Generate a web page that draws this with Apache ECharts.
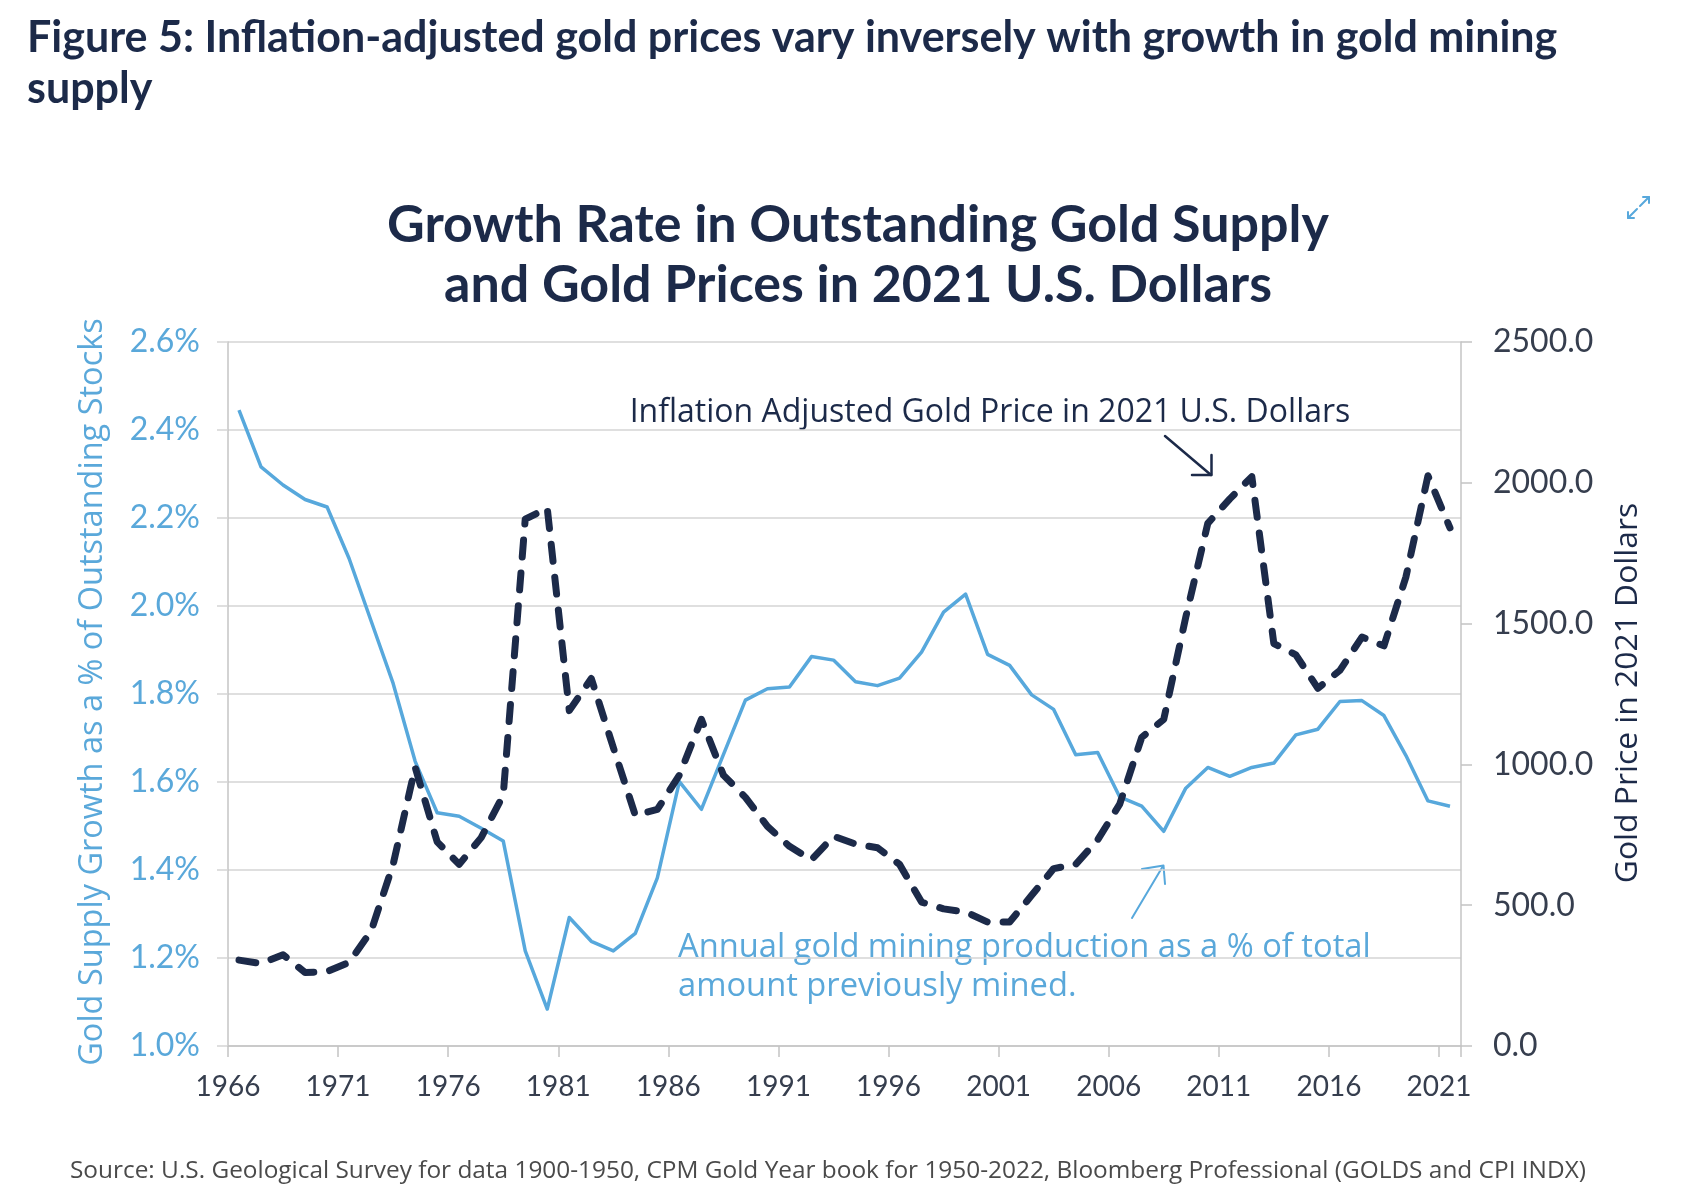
<!DOCTYPE html>
<html>
<head>
<meta charset="utf-8">
<script src="https://cdn.jsdelivr.net/npm/echarts@6/dist/echarts.min.js"></script>
<style>
  html, body { margin: 0; padding: 0; background: #ffffff; }
  #chart { width: 1696px; height: 1202px; }
</style>
</head>
<body>
<div id="chart"></div>
<script>
// ---- Data ----
const years = [1966,1967,1968,1969,1970,1971,1972,1973,1974,1975,1976,1977,1978,1979,1980,1981,1982,1983,1984,1985,
  1986,1987,1988,1989,1990,1991,1992,1993,1994,1995,1996,1997,1998,1999,2000,2001,2002,2003,2004,2005,
  2006,2007,2008,2009,2010,2011,2012,2013,2014,2015,2016,2017,2018,2019,2020,2021];

// Annual gold mining production as % of total previously mined (left axis, %)
const supplyGrowth = [2.445,2.316,2.275,2.242,2.225,2.108,1.966,1.824,1.647,1.530,1.522,1.495,1.466,1.216,1.084,1.292,1.238,1.216,1.256,1.382,
  1.601,1.538,1.662,1.786,1.812,1.816,1.885,1.877,1.828,1.819,1.836,1.895,1.986,2.027,1.890,1.865,1.798,1.765,1.662,1.667,
  1.566,1.545,1.488,1.586,1.633,1.613,1.633,1.643,1.707,1.720,1.783,1.785,1.751,1.660,1.557,1.545];

// Inflation adjusted gold price in 2021 U.S. dollars (right axis)
const goldPrice = [305,293,324,261,264,297,408,645,990,725,645,740,891,1871,1910,1191,1305,1060,819,840,
  962,1160,962,883,780,709,661,745,717,704,645,511,487,476,440,440,535,630,645,732,
  859,1096,1160,1523,1856,1943,2022,1429,1389,1270,1334,1452,1421,1666,2025,1840];

// Axis tick settings
const xMin = 1966, xMax = 2022, xStep = 5;
const leftMin = 1.0, leftMax = 2.6, leftStep = 0.2;
const rightMin = 0, rightMax = 2500, rightStep = 500;

// ---- Styles ----
const FONT = "Lato, 'Noto Sans', sans-serif";
const FONT_WIDE = "'Open Sans', 'Noto Sans', sans-serif";
const NAVY = '#1c2a49';
const BLUE = '#57a8dc';
const BLUE_TXT = '#5aa8da';
const AXIS_GRAY = '#c4c4c4';
const GRID_GRAY = '#d5d5d5';
const LABEL_DARK = '#363e4e';

// Each yearly value is plotted at the middle of its year slot
const supplyData = years.map((y, i) => [y + 0.5, supplyGrowth[i]]);
const priceData = years.map((y, i) => [y + 0.5, goldPrice[i]]);

const chart = echarts.init(document.getElementById('chart'), null, { renderer: 'canvas' });

function txt(text, x, y, size, color, opts) {
  opts = opts || {};
  return {
    type: 'text', x: x, y: y, silent: true,
    rotation: opts.rotation || 0,
    style: {
      text: text, fill: color, fontSize: size, fontFamily: opts.font || FONT,
      fontWeight: opts.weight || 'normal',
      align: opts.align || 'left', verticalAlign: 'middle'
    }
  };
}
function seg(points, color, w) {
  return { type: 'polyline', silent: true, shape: { points: points },
    style: { stroke: color, lineWidth: w, fill: null, lineCap: 'round', lineJoin: 'round' } };
}

const option = {
  backgroundColor: '#ffffff',
  animation: false,
  grid: { left: 228, right: 235, top: 342, bottom: 156, containLabel: false, outerBoundsMode: 'none' },
  xAxis: {
    type: 'value', min: xMin, max: xMax, interval: xStep,
    axisLine: { show: true, lineStyle: { color: AXIS_GRAY, width: 1.5 } },
    axisTick: { show: true, inside: false, length: 11, lineStyle: { color: AXIS_GRAY, width: 1.5 } },
    splitLine: { show: false },
    axisLabel: {
      margin: 27, fontSize: 28, fontFamily: FONT, color: LABEL_DARK,
      formatter: v => ((v - xMin) % xStep === 0 ? String(v) : '')
    }
  },
  yAxis: [
    {
      type: 'value', position: 'left', min: leftMin, max: leftMax, interval: leftStep,
      axisLine: { show: true, lineStyle: { color: AXIS_GRAY, width: 1.5 } },
      axisTick: { show: true, inside: false, length: 11, lineStyle: { color: GRID_GRAY, width: 1.5 } },
      splitLine: { show: true, lineStyle: { color: GRID_GRAY, width: 1.5 } },
      axisLabel: { margin: 28, fontSize: 32, fontFamily: FONT, color: BLUE_TXT,
        formatter: v => v.toFixed(1) + '%' }
    },
    {
      type: 'value', position: 'right', min: rightMin, max: rightMax, interval: rightStep,
      axisLine: { show: true, lineStyle: { color: AXIS_GRAY, width: 1.5 } },
      axisTick: { show: true, inside: false, length: 11, lineStyle: { color: AXIS_GRAY, width: 1.5 } },
      splitLine: { show: false },
      axisLabel: { margin: 32, fontSize: 32, fontFamily: FONT, color: LABEL_DARK,
        formatter: v => v.toFixed(1) }
    }
  ],
  series: [
    {
      name: 'Annual gold mining production as a % of total amount previously mined',
      type: 'line', xAxisIndex: 0, yAxisIndex: 0, data: supplyData,
      showSymbol: false, symbol: 'none', z: 2,
      lineStyle: { color: BLUE, width: 3.5, join: 'round' }
    },
    {
      name: 'Inflation Adjusted Gold Price in 2021 U.S. Dollars',
      type: 'line', xAxisIndex: 0, yAxisIndex: 1, data: priceData,
      showSymbol: false, symbol: 'none', z: 3,
      lineStyle: { color: NAVY, width: 7, type: [17, 16], cap: 'round', join: 'round' }
    }
  ],
  graphic: {
    elements: [
      // Page heading
      txt('Figure 5: Inflation-adjusted gold prices vary inversely with growth in gold mining', 27, 38, 43, NAVY, { weight: 'bold' }),
      txt('supply', 27, 89, 43, NAVY, { weight: 'bold' }),
      // Chart title
      txt('Growth Rate in Outstanding Gold Supply', 858, 225, 52, NAVY, { weight: 'bold', align: 'center' }),
      txt('and Gold Prices in 2021 U.S. Dollars', 858, 285, 52, NAVY, { weight: 'bold', align: 'center' }),
      // Axis names
      txt('Gold Supply Growth as a % of Outstanding Stocks', 93, 692, 32.5, BLUE_TXT, { align: 'center', rotation: Math.PI / 2, font: FONT_WIDE }),
      txt('Gold Price in 2021 Dollars', 1628, 693, 31.8, NAVY, { align: 'center', rotation: Math.PI / 2, font: FONT_WIDE }),
      // Price annotation + arrow
      txt('Inflation Adjusted Gold Price in 2021 U.S. Dollars', 990, 413, 32, NAVY, { align: 'center', font: FONT_WIDE }),
      seg([[1165, 436], [1211, 475]], NAVY, 2.5),
      seg([[1192, 475], [1211.5, 475], [1211.5, 455]], NAVY, 2.5),
      // Supply annotation + arrow
      txt('Annual gold mining production as a % of total', 678, 948, 32.7, BLUE_TXT, { font: FONT_WIDE }),
      txt('amount previously mined.', 678, 987, 32.7, BLUE_TXT, { font: FONT_WIDE }),
      seg([[1132, 918], [1163, 866]], BLUE, 2),
      seg([[1142, 869], [1163.5, 865.5], [1165, 884]], BLUE, 2),
      // Expand icon
      seg([[1640, 206], [1649, 197]], BLUE, 2),
      seg([[1643, 197], [1649, 197], [1649, 203]], BLUE, 2),
      seg([[1637, 209], [1628, 218]], BLUE, 2),
      seg([[1628, 212], [1628, 218], [1634, 218]], BLUE, 2),
      // Source
      txt('Source: U.S. Geological Survey for data 1900-1950, CPM Gold Year book for 1950-2022, Bloomberg Professional (GOLDS and CPI INDX)', 70, 1171, 24.4, '#4a4a4a', { font: FONT_WIDE })
    ]
  }
};

chart.setOption(option);
</script>
</body>
</html>
